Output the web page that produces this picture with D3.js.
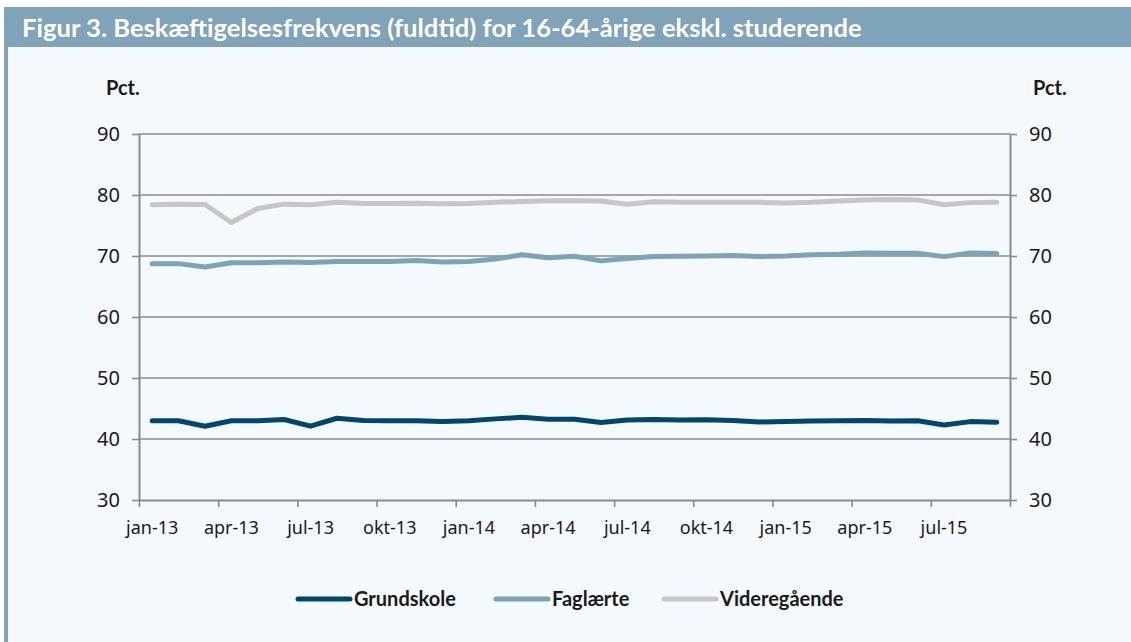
<!DOCTYPE html>
<html>
<head>
<meta charset="utf-8">
<script src="https://cdn.jsdelivr.net/npm/d3@7"></script>
<style>
  html, body { margin: 0; padding: 0; background: #ffffff; }
  svg { display: block; }
</style>
</head>
<body>
<svg id="chart" width="1131" height="642"></svg>
<script>
// ---- Data ----
const months = [
  "jan-13","feb-13","mar-13","apr-13","maj-13","jun-13","jul-13","aug-13","sep-13","okt-13","nov-13","dec-13",
  "jan-14","feb-14","mar-14","apr-14","maj-14","jun-14","jul-14","aug-14","sep-14","okt-14","nov-14","dec-14",
  "jan-15","feb-15","mar-15","apr-15","maj-15","jun-15","jul-15","aug-15","sep-15"
];
const grundskole = [
  43.0, 43.0, 42.1, 43.0, 43.0, 43.2, 42.1, 43.4, 43.05, 43.0, 43.0, 42.85, 43.0, 43.3,
  43.55, 43.25, 43.25, 42.7, 43.1, 43.2, 43.1, 43.15, 43.05, 42.8, 42.85, 42.95,
  43.0, 43.05, 42.95, 43.0, 42.3, 42.85, 42.75
];
const faglaerte = [
  68.75, 68.75, 68.2, 68.9, 68.9, 69.0, 68.95, 69.1, 69.1, 69.1, 69.25, 69.0, 69.1, 69.5,
  70.2, 69.7, 69.95, 69.2, 69.6, 69.9, 69.95, 70.0, 70.1, 69.9, 70.0, 70.2,
  70.3, 70.5, 70.45, 70.45, 69.9, 70.5, 70.4
];
const videregaaende = [
  78.4, 78.5, 78.45, 75.5, 77.8, 78.5, 78.4, 78.8, 78.6, 78.6, 78.65, 78.55, 78.6, 78.8,
  78.95, 79.05, 79.05, 79.0, 78.5, 78.9, 78.8, 78.8, 78.8, 78.8, 78.7, 78.8,
  79.0, 79.2, 79.25, 79.2, 78.4, 78.75, 78.8
];
const seriesNames = ["Grundskole", "Faglærte", "Videregående"];
const seriesColors = ["#00466e", "#7ea2b7", "#c6c6c6"];
const yTicks = [30, 40, 50, 60, 70, 80, 90];
const titleText = "Figur 3. Beskæftigelsesfrekvens (fuldtid) for 16-64-årige ekskl. studerende";
const unitLabel = "Pct.";

// ---- Layout ----
const svg = d3.select("#chart");
const W = 1131, H = 642;
const plot = { left: 139, right: 1010, top: 134, bottom: 500 };
const axisColor = "#8a8a8a";
const textColor = "#1a1a1a";
const boldFont = "Lato, 'Open Sans', sans-serif";
const fontTicks = "'Noto Sans', 'Open Sans', sans-serif";

// Background pieces
svg.append("rect").attr("x", 0).attr("y", 0).attr("width", W).attr("height", H).attr("fill", "#ffffff");
svg.append("rect").attr("x", 8).attr("y", 47).attr("width", W - 8).attr("height", H - 47).attr("fill", "#f3f9fd");
svg.append("rect").attr("x", 4).attr("y", 7).attr("width", W - 4).attr("height", 40).attr("fill", "#7fa3b8");
svg.append("rect").attr("x", 4).attr("y", 7).attr("width", 4).attr("height", H - 7).attr("fill", "#7fa3b8");

const title = svg.append("text")
  .attr("x", 22).attr("y", 37)
  .attr("fill", "#ffffff")
  .style("font-family", boldFont)
  .style("font-weight", "700")
  .style("font-size", "21px")
  .text(titleText);
// fit title to the width it occupies in the original (about 840 px)
const tl = title.node().getComputedTextLength();
title.style("font-size", (21 * 840 / tl).toFixed(2) + "px");

// ---- Scales ----
const x = d3.scaleBand().domain(months).range([plot.left, plot.right]).paddingInner(0).paddingOuter(0);
const xIdx = d3.scaleLinear().domain([0, months.length]).range([plot.left, plot.right]);
const y = d3.scaleLinear().domain([30, 90]).range([plot.bottom, plot.top]);
const xc = d => x(d) + x.bandwidth() / 2;

// Gridlines
svg.append("g").selectAll("line")
  .data(yTicks.filter(t => t > 30))
  .join("line")
  .attr("x1", plot.left).attr("x2", plot.right)
  .attr("y1", d => y(d)).attr("y2", d => y(d))
  .attr("stroke", axisColor).attr("stroke-width", 1.6);

// Y axes
const yLeft = svg.append("g").attr("transform", `translate(${plot.left},0)`)
  .call(d3.axisLeft(y).tickValues(yTicks).tickSize(7).tickPadding(12).tickSizeOuter(0));
const yRight = svg.append("g").attr("transform", `translate(${plot.right},0)`)
  .call(d3.axisRight(y).tickValues(yTicks).tickSize(7).tickPadding(12).tickSizeOuter(0));
[yLeft, yRight].forEach(g => {
  g.select(".domain").attr("stroke", axisColor).attr("stroke-width", 2);
  g.selectAll(".tick line").attr("stroke", axisColor).attr("stroke-width", 1.6);
  g.selectAll(".tick text").attr("fill", textColor)
    .style("font-family", fontTicks).style("font-size", "20px");
});

// X axis: tick marks at band boundaries every 3 months
const xTicksG = svg.append("g").attr("transform", `translate(0,${plot.bottom})`)
  .call(d3.axisBottom(xIdx).tickValues(d3.range(0, months.length + 1, 3)).tickSize(7).tickFormat("").tickSizeOuter(0));
xTicksG.select(".domain").attr("stroke", axisColor).attr("stroke-width", 2);
xTicksG.selectAll(".tick line").attr("stroke", axisColor).attr("stroke-width", 1.6);

// X labels at band centres every 3 months
const xLab = svg.append("g").attr("transform", `translate(0,${plot.bottom})`)
  .call(d3.axisBottom(x).tickValues(months.filter((m, i) => i % 3 === 0)).tickSize(0).tickPadding(21));
xLab.select(".domain").remove();
xLab.selectAll(".tick text").attr("fill", textColor)
  .style("font-family", fontTicks).style("font-size", "18px");

// Unit labels
[106, 1033].forEach(px => {
  svg.append("text").attr("x", px).attr("y", 95)
    .attr("fill", textColor)
    .style("font-family", boldFont).style("font-weight", "700").style("font-size", "20px")
    .text(unitLabel);
});

// Lines
const allSeries = [grundskole, faglaerte, videregaaende];
const line = d3.line().x((d, i) => xc(months[i])).y(d => y(d));
[2, 1, 0].forEach(k => {
  svg.append("path")
    .datum(allSeries[k])
    .attr("d", line)
    .attr("fill", "none")
    .attr("stroke", seriesColors[k])
    .attr("stroke-width", 5)
    .attr("stroke-linejoin", "round")
    .attr("stroke-linecap", "round");
});

// Legend
const legendItems = [
  { x1: 298, x2: 350, tx: 354 },
  { x1: 496, x2: 548, tx: 552 },
  { x1: 664, x2: 716, tx: 720 }
];
const legY = 599;
legendItems.forEach((it, k) => {
  svg.append("line")
    .attr("x1", it.x1).attr("x2", it.x2).attr("y1", legY).attr("y2", legY)
    .attr("stroke", seriesColors[k]).attr("stroke-width", 5).attr("stroke-linecap", "round");
  svg.append("text")
    .attr("x", it.tx).attr("y", legY + 7)
    .attr("fill", textColor)
    .style("font-family", boldFont).style("font-weight", "700").style("font-size", "20px")
    .text(seriesNames[k]);
});
</script>
</body>
</html>
